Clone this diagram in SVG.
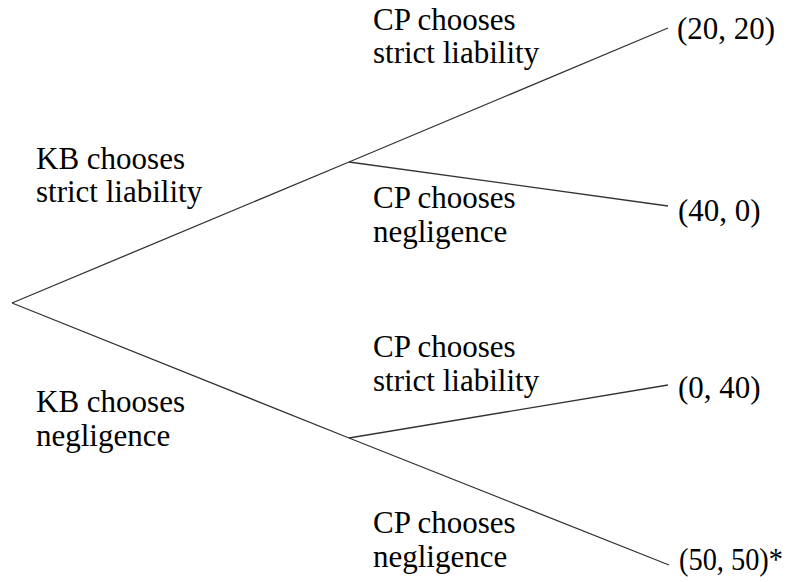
<svg xmlns="http://www.w3.org/2000/svg" width="790" height="582" viewBox="0 0 790 582">
<style>
.t{font-family:"Liberation Serif","Times New Roman",serif;font-size:31px;fill:#000}
.e{stroke:#333;stroke-width:1.3;fill:none}
</style>
<rect width="790" height="582" fill="#fff"/>
<g id="connectors">
<line class="e" x1="12" y1="303" x2="349" y2="162"/>
<line class="e" x1="12" y1="303" x2="349" y2="438"/>
<line class="e" x1="349" y1="162" x2="668" y2="28"/>
<line class="e" x1="349" y1="162" x2="668" y2="206"/>
<line class="e" x1="349" y1="438" x2="668" y2="385"/>
<line class="e" x1="349" y1="438" x2="669" y2="565"/>
</g>
<g id="kb-strict" class="t"><text x="36" y="169">KB chooses</text><text x="36" y="202">strict liability</text></g>
<g id="kb-neg" class="t"><text x="36" y="412">KB chooses</text><text x="36" y="446">negligence</text></g>
<g id="cp-strict-1" class="t"><text x="373" y="30">CP chooses</text><text x="373" y="63">strict liability</text></g>
<g id="cp-neg-1" class="t"><text x="373" y="208">CP chooses</text><text x="373" y="242">negligence</text></g>
<g id="cp-strict-2" class="t"><text x="373" y="357">CP chooses</text><text x="373" y="391">strict liability</text></g>
<g id="cp-neg-2" class="t"><text x="373" y="533">CP chooses</text><text x="373" y="567">negligence</text></g>
<g id="leaf1" class="t"><text x="677" y="39">(20, 20)</text></g>
<g id="leaf2" class="t"><text x="678" y="221">(40, 0)</text></g>
<g id="leaf3" class="t"><text x="678" y="398">(0, 40)</text></g>
<g id="leaf4" class="t"><text x="679" y="570" textLength="104" lengthAdjust="spacingAndGlyphs">(50, 50)*</text></g>
</svg>
